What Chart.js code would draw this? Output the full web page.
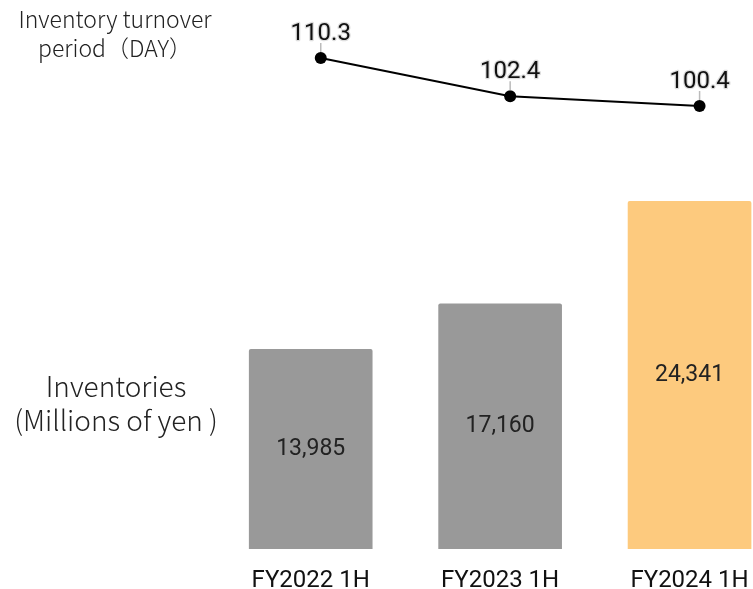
<!DOCTYPE html>
<html>
<head>
<meta charset="utf-8">
<script src="https://cdn.jsdelivr.net/npm/chart.js@4/dist/chart.umd.min.js"></script>
<style>
  body { margin: 0; background: #fff; }
  #wrap { position: relative; width: 753px; height: 589px; overflow: hidden; }
  #chart { position: absolute; left: 0; top: 0; }
  .side {
    position: absolute; width: 230px; text-align: center; color: #222;
    font-family: "Noto Sans CJK JP", "Noto Sans", sans-serif; font-weight: 300;
  }
  #lineTitle { left: 0; top: 4px; font-size: 23px; line-height: 29px; }
  #barTitle { left: 1px; top: 368px; font-size: 28px; line-height: 34px; }
</style>
</head>
<body>
<div id="wrap">
  <canvas id="chart" width="753" height="589"></canvas>
  <div class="side" id="lineTitle">Inventory turnover<br>period（DAY）</div>
  <div class="side" id="barTitle">Inventories<br>(Millions of yen )</div>
</div>
<script>
const categories = ['FY2022 1H', 'FY2023 1H', 'FY2024 1H'];
const inventories = [13985, 17160, 24341];
const turnoverDays = [110.3, 102.4, 100.4];
const barColors = ['#999999', '#999999', '#fdca7e'];

// category names under bars, values inside bars and above line points
const valueLabels = {
  id: 'valueLabels',
  afterDatasetsDraw(chart) {
    const ctx = chart.ctx;
    const bottom = chart.chartArea.bottom;
    ctx.save();
    ctx.textAlign = 'center';

    const bars = chart.getDatasetMeta(1).data;
    bars.forEach((bar, i) => {
      ctx.font = '23px Roboto';
      ctx.fillStyle = '#222';
      ctx.textBaseline = 'middle';
      ctx.fillText(inventories[i].toLocaleString('en-US'), bar.x, (bar.y + bar.base) / 2);
      ctx.font = '24px Roboto';
      ctx.fillStyle = '#111';
      ctx.textBaseline = 'alphabetic';
      ctx.fillText(categories[i], bar.x, bottom + 38);
    });

    const points = chart.getDatasetMeta(0).data;
    ctx.font = '24px Roboto';
    ctx.textBaseline = 'alphabetic';
    points.forEach((pt, i) => {
      ctx.strokeStyle = '#bbb';
      ctx.lineWidth = 1.5;
      ctx.beginPath();
      ctx.moveTo(pt.x, pt.y - 6);
      ctx.lineTo(pt.x, pt.y - 15);
      ctx.stroke();
      const txt = turnoverDays[i].toFixed(1);
      ctx.lineWidth = 2.5;
      ctx.strokeStyle = '#dedede';
      ctx.lineJoin = 'round';
      ctx.strokeText(txt, pt.x, pt.y - 18);
      ctx.fillStyle = '#111';
      ctx.fillText(txt, pt.x, pt.y - 18);
    });
    ctx.restore();
  }
};

new Chart(document.getElementById('chart'), {
  data: {
    datasets: [
      {
        type: 'line',
        data: turnoverDays.map((v, i) => ({ x: i, y: v })),
        xAxisID: 'xl',
        yAxisID: 'yl',
        borderColor: '#000',
        borderWidth: 2,
        pointRadius: 6,
        pointBackgroundColor: '#000',
        pointBorderWidth: 0,
        tension: 0
      },
      {
        type: 'bar',
        data: inventories.map((v, i) => ({ x: i, y: v })),
        xAxisID: 'x',
        yAxisID: 'y',
        backgroundColor: barColors,
        barThickness: 123,
        grouped: false,
        borderRadius: 2,
        borderSkipped: 'bottom'
      }
    ]
  },
  options: {
    responsive: false,
    animation: false,
    layout: { autoPadding: false, padding: { left: 216, right: 0, top: 0, bottom: 40 } },
    plugins: { legend: { display: false }, tooltip: { enabled: false } },
    scales: {
      x: { type: 'linear', display: false, offset: false, min: -0.5, max: 2.335 },
      xl: { type: 'linear', display: false, offset: false, min: -0.553, max: 2.282 },
      y: { display: false, min: 0, max: 38445 },
      yl: { display: false, min: 9.06, max: 122.26 }
    }
  },
  plugins: [valueLabels]
});
</script>
</body>
</html>
